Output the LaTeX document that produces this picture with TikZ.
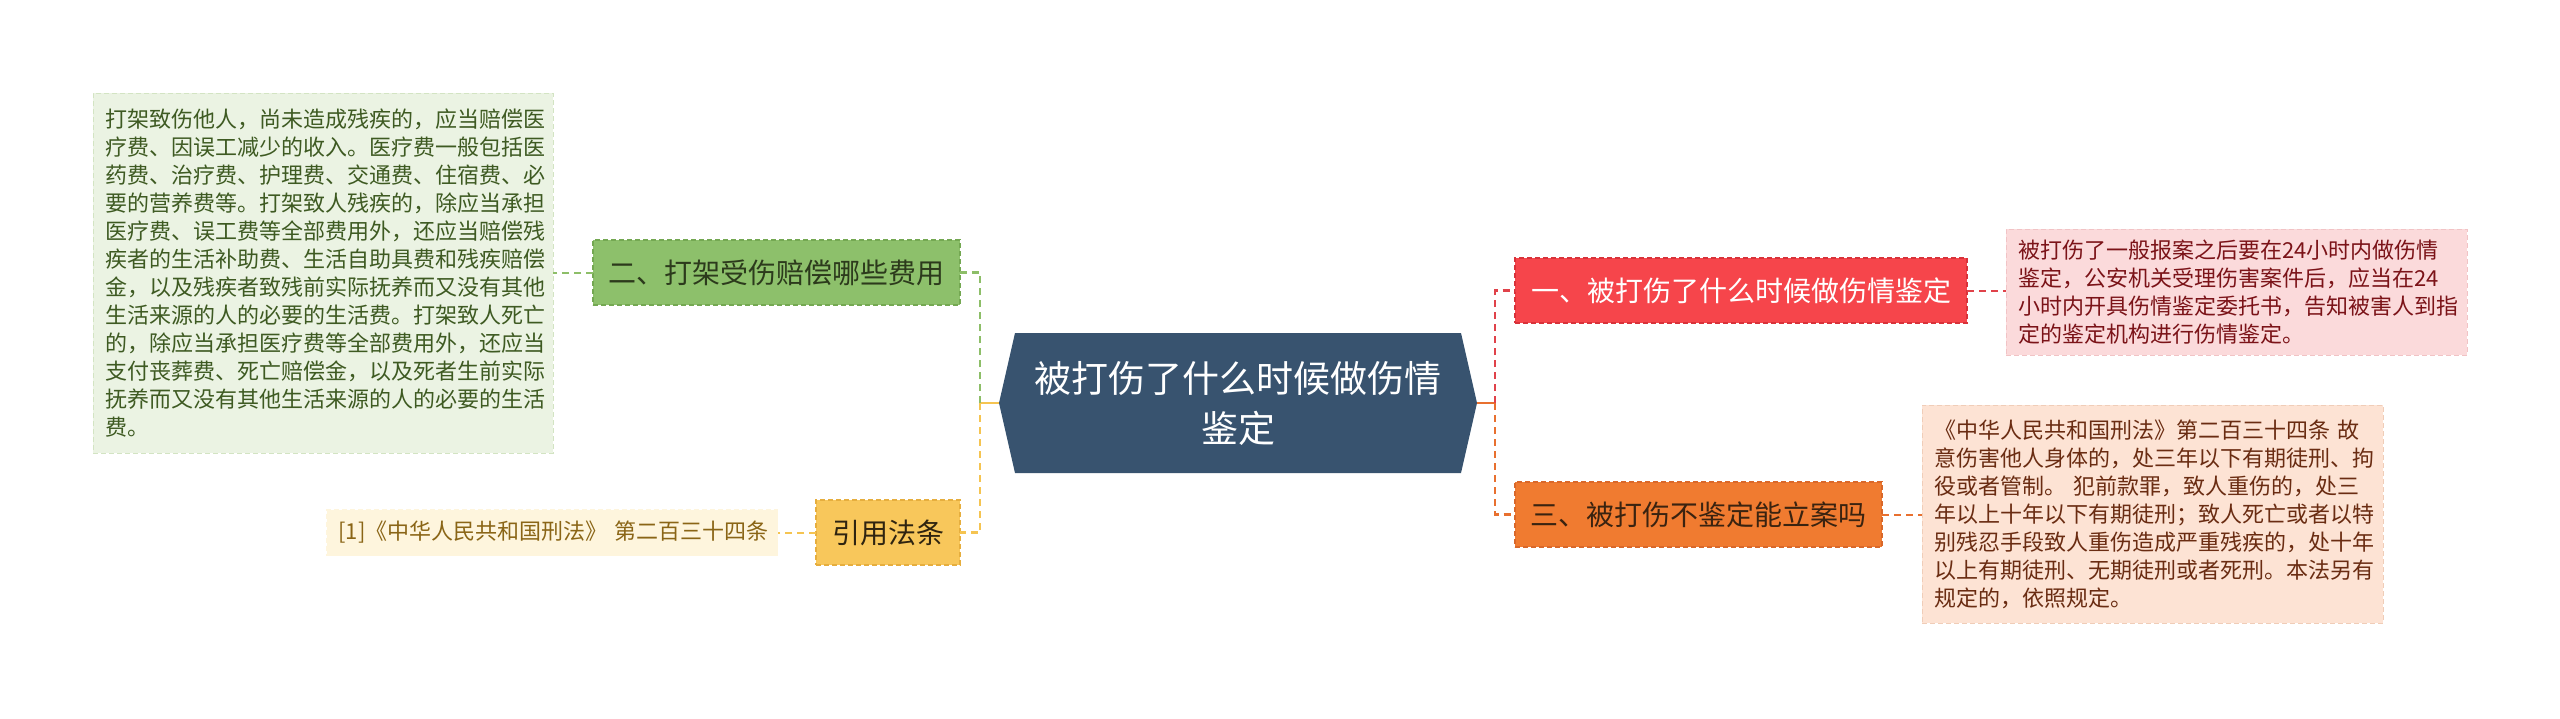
\documentclass[tikz,border=0pt]{standalone}
\usepackage{fontspec}
\setmainfont{Noto Sans CJK SC}
\definecolor{cfill}{HTML}{38536F}
\definecolor{gfill}{HTML}{8DC06B}
\definecolor{gborder}{HTML}{74A852}
\definecolor{gtext}{HTML}{2C3A1C}
\definecolor{gtfill}{HTML}{EBF3E3}
\definecolor{gtborder}{HTML}{D3E4C3}
\definecolor{gttext}{HTML}{3E5A22}
\definecolor{gcol}{HTML}{8DBE68}
\definecolor{yfill}{HTML}{F8C75B}
\definecolor{yborder}{HTML}{E6AE3E}
\definecolor{ytext}{HTML}{2F2410}
\definecolor{ycfill}{HTML}{FEF5DD}
\definecolor{yctext}{HTML}{8A6516}
\definecolor{ycol}{HTML}{F5C451}
\definecolor{rfill}{HTML}{F6454B}
\definecolor{rborder}{HTML}{D8323A}
\definecolor{ptfill}{HTML}{FBDADB}
\definecolor{ptborder}{HTML}{F1C3C5}
\definecolor{pttext}{HTML}{7B1318}
\definecolor{rcol}{HTML}{E0424A}
\definecolor{ofill}{HTML}{F07B30}
\definecolor{oborder}{HTML}{D9682A}
\definecolor{otext}{HTML}{3A2310}
\definecolor{otfill}{HTML}{FDE3D4}
\definecolor{otborder}{HTML}{F0CDB8}
\definecolor{ottext}{HTML}{6A2C12}
\definecolor{ocol}{HTML}{E8702F}
\begin{document}
\begin{tikzpicture}[x=1pt,y=-1pt,
  every node/.style={inner sep=0pt, outer sep=0pt},
  topic/.style={minimum height=65pt, font=\fontsize{28}{34}\selectfont, dash pattern=on 5pt off 3pt, line width=1.2pt},
  leaf/.style={align=left, dash pattern=on 5pt off 3pt, line width=1pt, inner xsep=12pt, font=\fontsize{22}{28}\selectfont},
  con/.style={line width=2.6pt, dash pattern=on 7pt off 5pt},
  stub/.style={line width=2.6pt},
]
\useasboundingbox (0,0) rectangle (2560,718);
\fill[white] (0,0) rectangle (2560,718);

% central topic
\coordinate (cW) at (999,403);
\coordinate (cE) at (1477,403);
\fill[cfill] (cW) -- (1015,333) -- (1461,333) -- (cE) -- (1461,473) -- (1015,473) -- cycle;
\node[font=\fontsize{37}{50}\selectfont, text=white, align=center, minimum width=446pt, minimum height=140pt] (c) at (1238,403) {被打伤了什么时候做伤情\\鉴定};

% left branches
\node[topic, fill=gfill, draw=gborder, minimum width=367pt, text=gtext] (g) at (776.5,272.5) {二、打架受伤赔偿哪些费用};
\node[leaf, fill=gtfill, draw=gtborder, text width=436pt, minimum height=360pt, text=gttext] (gt) at (323,273) {打架致伤他人，尚未造成残疾的，应当赔偿医\\疗费、因误工减少的收入。医疗费一般包括医\\药费、治疗费、护理费、交通费、住宿费、必\\要的营养费等。打架致人残疾的，除应当承担\\医疗费、误工费等全部费用外，还应当赔偿残\\疾者的生活补助费、生活自助具费和残疾赔偿\\金，以及残疾者致残前实际抚养而又没有其他\\生活来源的人的必要的生活费。打架致人死亡\\的，除应当承担医疗费等全部费用外，还应当\\支付丧葬费、死亡赔偿金，以及死者生前实际\\抚养而又没有其他生活来源的人的必要的生活\\费。};

\node[topic, fill=yfill, draw=yborder, minimum width=144pt, text=ytext] (y) at (888,532.5) {引用法条};
\node[leaf, fill=ycfill, draw=ycfill, text width=427pt, minimum height=46pt, text=yctext] (yc) at (552,532.5) {\mbox{[1]《中华人民共和国刑法》 第二百三十四条}};

% right branches
\node[topic, fill=rfill, draw=rborder, minimum width=452pt, text=white] (r) at (1741,290.5) {一、被打伤了什么时候做伤情鉴定};
\node[leaf, fill=ptfill, draw=ptborder, text width=437pt, minimum height=126pt, text=pttext] (pt) at (2236.5,292) {被打伤了一般报案之后要在24小时内做伤情\\鉴定，公安机关受理伤害案件后，应当在24\\小时内开具伤情鉴定委托书，告知被害人到指\\定的鉴定机构进行伤情鉴定。};

\node[topic, fill=ofill, draw=oborder, minimum width=367pt, text=otext] (o) at (1698.5,514.5) {三、被打伤不鉴定能立案吗};
\node[leaf, fill=otfill, draw=otborder, text width=437pt, minimum height=218pt, text=ottext] (ot) at (2152.5,514) {《中华人民共和国刑法》第二百三十四条 故\\意伤害他人身体的，处三年以下有期徒刑、拘\\役或者管制。 犯前款罪，致人重伤的，处三\\年以上十年以下有期徒刑；致人死亡或者以特\\别残忍手段致人重伤造成严重残疾的，处十年\\以上有期徒刑、无期徒刑或者死刑。本法另有\\规定的，依照规定。};

% connectors
\coordinate (tl) at (980,403);
\coordinate (tr) at (1495,403);
\draw[stub, ycol] (cW) -- (tl);
\draw[con, gcol] (tl) |- (g.east);
\draw[con, ycol] (tl) |- (y.east);
\draw[con, gcol, line width=2pt] (g.west) -- (g.west -| gt.east);
\draw[con, ycol, line width=2pt] (y.west) -- (y.west -| yc.east);
\draw[stub, ocol] (cE) -- (tr);
\draw[con, rcol] (tr) |- (r.west);
\draw[con, ocol] (tr) |- (o.west);
\draw[con, rcol, line width=2pt] (r.east) -- (r.east -| pt.west);
\draw[con, ocol, line width=2pt] (o.east) -- (o.east -| ot.west);
\end{tikzpicture}
\end{document}
